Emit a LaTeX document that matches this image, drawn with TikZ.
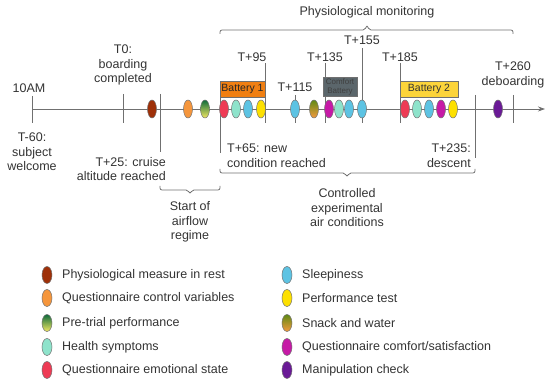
\documentclass[tikz,border=0pt]{standalone}
\usepackage{fontspec}
\setmainfont{Liberation Sans}
\usetikzlibrary{shapes.geometric,arrows.meta}
\definecolor{ink}{HTML}{333333}
\definecolor{rule}{HTML}{707070}
\definecolor{cRest}{HTML}{9E3008}
\definecolor{cCtrl}{HTML}{F5963C}
\definecolor{cPreTop}{HTML}{0E6B3C}
\definecolor{cPreBot}{HTML}{F3E862}
\definecolor{cHealth}{HTML}{8EE3CB}
\definecolor{cEmo}{HTML}{EE3B55}
\definecolor{cSleep}{HTML}{5DC3E3}
\definecolor{cPerf}{HTML}{FDE000}
\definecolor{cSnackTop}{HTML}{5F8A14}
\definecolor{cSnackBot}{HTML}{F59A3E}
\definecolor{cComf}{HTML}{C61AA6}
\definecolor{cManip}{HTML}{6A1A96}
\definecolor{cBatOne}{HTML}{F07F12}
\definecolor{cBatTwo}{HTML}{FCD43A}
\definecolor{cBatC}{HTML}{5B666B}
\tikzset{
  evt/.style={ellipse, draw=black!55, line width=0.5pt, minimum width=9pt, minimum height=18pt, inner sep=0pt},
  key/.style={evt, minimum width=10pt, minimum height=17pt},
  lbl/.style={font=\fontsize{12.5}{14.5}\selectfont, text=ink, inner sep=0pt, align=center},
  batt/.style={draw=rule, line width=0.6pt, inner sep=0pt, minimum height=16pt, font=\fontsize{10.5}{12}\selectfont},
  tickline/.style={rule, line width=0.8pt},
  brace/.style={rule, line width=0.8pt, rounded corners=2pt}
}

\begin{document}
\begin{tikzpicture}[x=1pt,y=-1pt]
    \useasboundingbox (0,0) rectangle (550,387);
    \coordinate (start) at (32,109);
    \coordinate (end) at (545,109);
    \foreach \x/\ya/\yb in {32/96/123, 123/94/123, 160/94/152, 220/82/153, 265/63/123, 295/95/123,
        325/63/123, 362/48/123, 400/63/123, 475/95/158, 513/95/123}
        {\draw[tickline] (\x,\ya) -- (\x,\yb);}
    \draw[tickline, -{Stealth[length=7pt,width=5pt]}] (start) -- (end);
    \draw[brace] (220,34) -- (220,30) -- (365,30) -- (367,25) -- (369,30) -- (513,30) -- (513,34);
    \draw[brace] (220,169) -- (220,173) -- (345,173) -- (347,177) -- (349,173) -- (475,173) -- (475,169);
    \draw[brace] (160,186) -- (160,190) -- (188,190) -- (190,194) -- (192,190) -- (220,190) -- (220,186);
    \node[batt, fill=cBatOne, minimum width=45pt, text=black!85] (bat1) at (242.5,89) {Battery 1};
    \node[batt, fill=cBatTwo, minimum width=58pt, text=ink] (bat2) at (429,89) {Battery 2};
    \node[batt, fill=cBatC, minimum width=34pt, minimum height=19pt, align=center, text=black!75,
        font=\fontsize{8}{9}\selectfont] (batc) at (340,86.5) {Comfort\\Battery};
    \node[evt, fill=cRest] (e1) at (152,109) {};
    \node[evt, fill=cCtrl] (e2) at (188,109) {};
    \node[evt, top color=cPreTop, bottom color=cPreBot] (e3) at (205,109) {};
    \node[evt, fill=cEmo] (e4) at (224,109) {};
    \node[evt, fill=cHealth] (e5) at (236,109) {};
    \node[evt, fill=cSleep] (e6) at (248,109) {};
    \node[evt, fill=cPerf] (e7) at (261,109) {};
    \node[evt, fill=cSleep] (e8) at (295,109) {};
    \node[evt, top color=cSnackTop, bottom color=cSnackBot] (e9) at (314,109) {};
    \node[evt, fill=cComf] (e10) at (329,109) {};
    \node[evt, fill=cHealth] (e11) at (339,109) {};
    \node[evt, fill=cSleep] (e12) at (349,109) {};
    \node[evt, fill=cSleep] (e13) at (362,109) {};
    \node[evt, fill=cEmo] (e14) at (405,109) {};
    \node[evt, fill=cHealth] (e15) at (417,109) {};
    \node[evt, fill=cSleep] (e16) at (429,109) {};
    \node[evt, fill=cComf] (e17) at (441,109) {};
    \node[evt, fill=cPerf] (e18) at (453,109) {};
    \node[evt, fill=cManip] (e19) at (498,109) {};
    \node[lbl] (tam) at (29,88) {10AM};
    \node[lbl] (tm60) at (32,152) {T-60:\\subject\\welcome};
    \node[lbl] (tz) at (123,65) {T0:\\boarding\\completed};
    \node[lbl, anchor=east, align=right] (t25) at (166,169) {T+25: cruise\\altitude reached};
    \node[lbl, anchor=west, align=left] (t65) at (227,155.5) {T+65: new\\condition reached};
    \node[lbl, anchor=east, align=right] (t235) at (471,155.5) {T+235:\\descent};
    \node[lbl] (t95) at (252,57) {T+95};
    \node[lbl] (t115) at (295,87) {T+115};
    \node[lbl] (t135) at (325,57) {T+135};
    \node[lbl] (t155) at (362,40) {T+155};
    \node[lbl] (t185) at (400,57) {T+185};
    \node[lbl] (t260) at (513,75) {T+260\\deboarding};
    \node[lbl] (phys) at (367,12) {Physiological monitoring};
    \node[lbl] (ctrl) at (347,208) {Controlled\\experimental\\air conditions};
    \node[lbl] (flow) at (190,222) {Start of\\airflow\\regime};
    \node[key, fill=cRest] (k1) at (47,275) {};
    \node[key, fill=cCtrl] (k2) at (47,298) {};
    \node[key, top color=cPreTop, bottom color=cPreBot] (k3) at (47,323) {};
    \node[key, fill=cHealth] (k4) at (47,347) {};
    \node[key, fill=cEmo] (k5) at (47,370) {};
    \node[key, fill=cSleep] (k6) at (287,275) {};
    \node[key, fill=cPerf] (k7) at (287,298) {};
    \node[key, top color=cSnackTop, bottom color=cSnackBot] (k8) at (287,323) {};
    \node[key, fill=cComf] (k9) at (287,347) {};
    \node[key, fill=cManip] (k10) at (287,370) {};
    \node[lbl, anchor=west] (l1) at (62,275) {Physiological measure in rest};
    \node[lbl, anchor=west] (l2) at (62,298) {Questionnaire control variables};
    \node[lbl, anchor=west] (l3) at (62,323) {Pre-trial performance};
    \node[lbl, anchor=west] (l4) at (62,347) {Health symptoms};
    \node[lbl, anchor=west] (l5) at (62,370) {Questionnaire emotional state};
    \node[lbl, anchor=west] (l6) at (302,275) {Sleepiness};
    \node[lbl, anchor=west] (l7) at (302,298) {Performance test};
    \node[lbl, anchor=west] (l8) at (302,323) {Snack and water};
    \node[lbl, anchor=west] (l9) at (302,347) {Questionnaire comfort/satisfaction};
    \node[lbl, anchor=west] (l10) at (302,370) {Manipulation check};
\end{tikzpicture}
\end{document}
